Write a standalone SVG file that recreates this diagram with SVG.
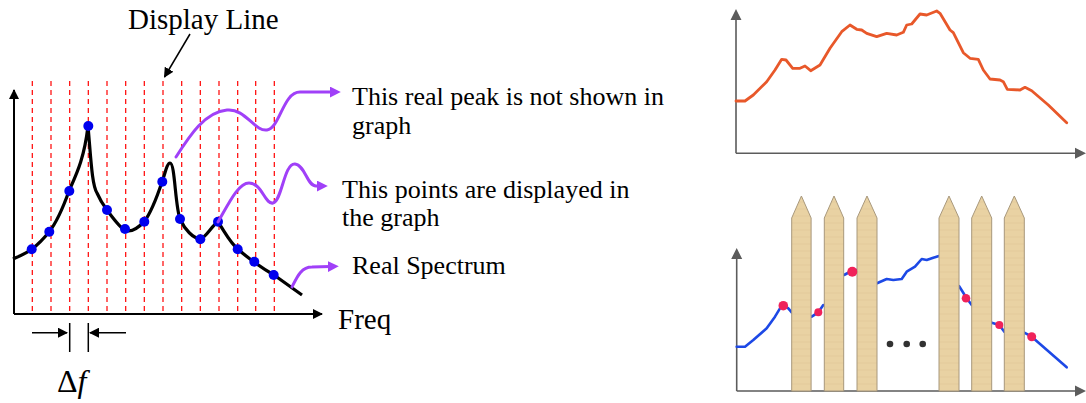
<svg xmlns="http://www.w3.org/2000/svg" width="1086" height="403" viewBox="0 0 1086 403">
  <style>
    text { fill: #000; }
    .label { font-size: 26px; }
    .big { font-size: 29px; }
    .grid { stroke: #ff0000; stroke-width: 1.2; stroke-dasharray: 5 4; }
    .axis { stroke: #000; stroke-width: 2; fill: none; }
    .thin { stroke: #000; stroke-width: 1.5; fill: none; }
    .spectrum { stroke: #000; stroke-width: 3.2; fill: none; stroke-linejoin: round; stroke-linecap: butt; }
    .pointer { stroke: #a040f8; stroke-width: 3; fill: none; stroke-linecap: round; }
    .sample { fill: #0000ee; }
    .gaxis { stroke: #5c5c5c; stroke-width: 1.6; fill: none; }
    .orange { stroke: #e8582a; stroke-width: 2.8; fill: none; stroke-linejoin: round; stroke-linecap: round; }
    .blue { stroke: #1f48e6; stroke-width: 2.6; fill: none; stroke-linejoin: round; stroke-linecap: round; }
    .hit { fill: #f0245a; }
    .picket { fill: url(#wood); stroke: #a8987c; stroke-width: 1; }
    .ellipsis { fill: #333; }
  </style>
  <defs>
    <marker id="headBlack" viewBox="0 0 10 10" refX="9" refY="5" markerWidth="10" markerHeight="10" markerUnits="userSpaceOnUse" orient="auto">
      <path d="M0,0 L10,5 L0,10 Z" fill="#000"/>
    </marker>
    <marker id="headPurple" viewBox="0 0 10 10" refX="2" refY="5" markerWidth="11" markerHeight="11" markerUnits="userSpaceOnUse" orient="auto">
      <path d="M0,0 L10,5 L0,10 Z" fill="#a040f8"/>
    </marker>
    <pattern id="wood" width="20" height="7" patternUnits="userSpaceOnUse">
      <rect width="20" height="7" fill="#e9d2a3"/>
      <path d="M0,6 H20" stroke="#dcc290" stroke-width="1" opacity="0.45"/>
    </pattern>
    <filter id="soft" x="-5%" y="-5%" width="110%" height="110%">
      <feGaussianBlur stdDeviation="0.5"/>
    </filter>
  </defs>

  <!-- Left: sampled spectrum with display lines -->
  <g id="display-grid">
    <path class="grid" d="M32.3,81 V314 M51,81 V314 M69.7,81 V314 M88.3,81 V314 M107,81 V314 M125.7,81 V314 M144.3,81 V314 M163,81 V314 M181.7,81 V314 M200.3,81 V314 M219,81 V314 M237.7,81 V314 M255.7,81 V314 M274.3,81 V314"/>
  </g>

  <g id="spectrum-axes">
    <path class="axis" d="M14,314 V90" marker-end="url(#headBlack)"/>
    <path class="axis" d="M14,314 H322" marker-end="url(#headBlack)"/>
  </g>

  <g id="real-spectrum">
    <path class="spectrum" d="M13,259 C22,255 27,253 32,249 C40,243 45,237 49,232 C57,222 64,205 69,191 C76,175 84,160 88,126 C91,160 92,185 97,193 C100,200 104,206 107,210 C113,218 120,228 125,230 C131,233 137,229 144,222 C150,214 157,197 162,182 C165,174 167,163 170,163 C175,163 175,205 180,219 C185,230 193,238 200,239 C206,238 212,225 218,222 C225,232 230,243 238,249 C244,255 249,258 254,262 C261,267 267,271 274,275 L302,295"/>
  </g>

  <g id="sample-points">
    <circle class="sample" cx="31.7" cy="249.3" r="5"/>
    <circle class="sample" cx="49.3" cy="231.7" r="5"/>
    <circle class="sample" cx="69.3" cy="191" r="5"/>
    <circle class="sample" cx="88.3" cy="126" r="5"/>
    <circle class="sample" cx="107" cy="210" r="5"/>
    <circle class="sample" cx="125" cy="229" r="5"/>
    <circle class="sample" cx="144.3" cy="221.7" r="5"/>
    <circle class="sample" cx="162.3" cy="181.7" r="5"/>
    <circle class="sample" cx="180" cy="219" r="5"/>
    <circle class="sample" cx="200.3" cy="239.3" r="5"/>
    <circle class="sample" cx="218" cy="221.7" r="5"/>
    <circle class="sample" cx="237.7" cy="249.3" r="5"/>
    <circle class="sample" cx="254.3" cy="261.7" r="5"/>
    <circle class="sample" cx="273.7" cy="275" r="5"/>
  </g>

  <g id="connectors">
    <!-- display line pointer -->
    <path class="thin" d="M190,34 L164.5,77" marker-end="url(#headBlack)"/>
    <!-- frequency step markers -->
    <path class="thin" d="M32,332.7 H67" marker-end="url(#headBlack)"/>
    <path class="thin" d="M126,332.7 H90" marker-end="url(#headBlack)"/>
    <!-- callouts -->
    <path class="pointer" d="M176,157 C190,135 205,112 227,110 C245,108 255,132 267,130 C280,128 283,92 300,92 L332,92" marker-end="url(#headPurple)"/>
    <path class="pointer" d="M218,222 C228,205 238,183 249,183 C262,183 265,205 273,203 C282,201 284,163 295,164 C305,165 307,186 316,186 L319,186" marker-end="url(#headPurple)"/>
    <path class="pointer" d="M292,287 C297,277 301,267 312,267 L330,266.5" marker-end="url(#headPurple)"/>
  </g>

  <g id="step-ticks">
    <path class="thin" d="M69.7,323 V352 M88.3,323 V352"/>
  </g>

  <g id="labels" font-family="'Liberation Serif', 'DejaVu Serif', serif">
    <text class="big" x="128" y="29">Display Line</text>
    <text class="label" x="352" y="105">This real peak is not shown in</text>
    <text class="label" x="352" y="134">graph</text>
    <text class="label" x="342" y="198">This points are displayed in</text>
    <text class="label" x="342" y="226">the graph</text>
    <text class="label" x="352" y="274">Real Spectrum</text>
    <text class="big" x="338" y="329">Freq</text>
    <text x="57" y="392" font-size="32">Δ<tspan font-style="italic">f</tspan></text>
  </g>

  <!-- Right top: continuous spectrum trace -->
  <g id="trace-chart" filter="url(#soft)">
    <path class="gaxis" d="M736,153.3 V18 M736,153.3 H1076"/>
    <path d="M730.5,20 L736,9 L741.5,20 Z M1075,147.8 L1086,153.3 L1075,158.8 Z" fill="#5c5c5c"/>
    <path class="orange" d="M736,101 L745,101 L753.3,95 L766.7,81.7 L775,70 L781.7,59.3 L786,60 L792.7,68.3 L800,68.3 L805,66 L810.7,70.7 L820,65 L830,48.3 L841.7,31.7 L850,25 L856.7,29.3 L861.7,30 L866.7,33.3 L876.7,36.7 L886.7,33.3 L896.7,35 L903.3,32.3 L906.7,25 L911.7,24 L920,14 L926.7,15 L936.7,11 L940,13.3 L950,30 L953.3,32.7 L963.3,52.7 L970,58.3 L978.3,59.3 L983.3,70 L990,79 L1000,80 L1003.3,81.7 L1007.3,89.3 L1020,90 L1025,87.3 L1031.7,90.7 L1048.3,105 L1066.7,122.7"/>
  </g>

  <!-- Right bottom: trace seen between fence pickets -->
  <g id="fence-chart" filter="url(#soft)">
    <path class="gaxis" d="M736.7,391 V257 M736.7,391 H1076"/>
    <path d="M731.2,259 L736.7,248 L742.2,259 Z M1075,385.5 L1086,391 L1075,396.5 Z" fill="#5c5c5c"/>
    <g id="trace-segments">
      <path class="blue" d="M736.7,346.7 L745,346.7 L753.3,340 L766.7,328.3 L775,316.7 L780,308.3 L783.3,305 L788.3,308.3 L791.7,312.3"/>
      <path class="blue" d="M811.7,316.7 L818.3,312.3 L823.3,305"/>
      <path class="blue" d="M844,275 L851.7,271 L857,270"/>
      <path class="blue" d="M877,283.3 L886.7,279 L893.3,280 L901.7,279 L906.7,271.7 L915,266.7 L921.7,259 L926.7,260 L933.3,257.7 L939,256"/>
      <path class="blue" d="M959,286 L966.7,298.3 L971.7,305"/>
      <path class="blue" d="M991.7,322.7 L999.3,325 L1004.3,331.7"/>
      <path class="blue" d="M1024.3,332.7 L1031.7,336.7 L1066.7,367.3"/>
    </g>
    <g id="pickets">
      <path class="picket" d="M791.7,391 V218 L801.4,196 L811.1,218 V391 Z"/>
      <path class="picket" d="M824.3,391 V218 L834,196 L843.7,218 V391 Z"/>
      <path class="picket" d="M857,391 V218 L867,196 L877,218 V391 Z"/>
      <path class="picket" d="M939,391 V218 L949,196 L959,218 V391 Z"/>
      <path class="picket" d="M971.7,391 V218 L981.7,196 L991.7,218 V391 Z"/>
      <path class="picket" d="M1004.3,391 V218 L1014.3,196 L1024.3,218 V391 Z"/>
    </g>
    <g id="visible-samples">
      <circle class="hit" cx="783.3" cy="305.7" r="4.8"/>
      <circle class="hit" cx="818.3" cy="312.3" r="4"/>
      <circle class="hit" cx="852.3" cy="271.7" r="5"/>
      <circle class="hit" cx="966" cy="298.3" r="4.3"/>
      <circle class="hit" cx="999.3" cy="325" r="4"/>
      <circle class="hit" cx="1031.7" cy="336.7" r="4.5"/>
    </g>
    <g id="gap-ellipsis">
      <circle class="ellipsis" cx="890" cy="344" r="3.3"/>
      <circle class="ellipsis" cx="906.7" cy="344" r="3.3"/>
      <circle class="ellipsis" cx="922.7" cy="344" r="3.3"/>
    </g>
  </g>
</svg>
